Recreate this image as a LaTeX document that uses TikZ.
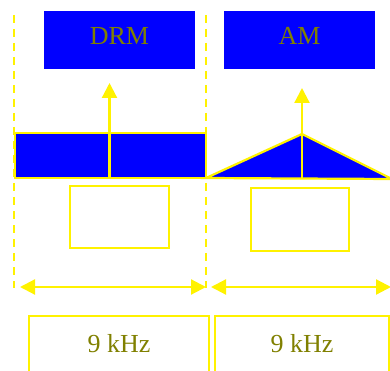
\documentclass[tikz,border=0pt]{standalone}
\usepackage{fontspec}
\setmainfont{Liberation Serif}
\usetikzlibrary{arrows.meta}
\definecolor{txtol}{RGB}{128,128,0}
\begin{document}
\begin{tikzpicture}[x=1pt,y=-1pt,
  yl/.style={draw=yellow, line width=2.2pt},
  bluebox/.style={fill=blue, text=txtol, font=\fontsize{26}{30}\selectfont, inner sep=0pt, minimum width=151pt, minimum height=58pt, text depth=8pt},
  emptybox/.style={yl, inner sep=0pt},
  khzbox/.style={yl, text=txtol, font=\fontsize{26}{30}\selectfont, inner sep=0pt, minimum height=64pt, text depth=9.8pt},
  tipped/.style={yl, -{Triangle[length=15pt,width=15pt]}},
  twotip/.style={yl, {Triangle[length=15pt,width=15pt]}-{Triangle[length=15pt,width=15pt]}},
  divider/.style={draw=yellow, line width=2.6pt, dash pattern=on 8pt off 6pt}]
\useasboundingbox (0,0) rectangle (390,371);
\clip (0,0) rectangle (390,371);
% dashed dividers
\coordinate (d1a) at (14,15); \coordinate (d1b) at (14,288);
\coordinate (d2a) at (206,15); \coordinate (d2b) at (206,288);
\draw[divider] (d1a) -- (d1b);
\draw[divider] (d2a) -- (d2b);
% top labels
\node[bluebox] (drm) at (119.5,40) {DRM};
\node[bluebox] (am) at (299.5,40) {AM};
% DRM spectrum
\node[yl, fill=blue, minimum width=191pt, minimum height=45pt, inner sep=0pt] (drmrect) at (110.5,155.5) {};
% AM spectrum
\coordinate (tl) at (206,178); \coordinate (tt) at (302,134); \coordinate (tr) at (392,179);
\draw[yl, fill=blue, line join=miter] (tl) -- (tt) -- (tr) -- cycle;
% vertical arrows
\coordinate (a1s) at (109.5,178); \coordinate (a1e) at (109.5,83);
\coordinate (a2s) at (302,178); \coordinate (a2e) at (302,88);
\draw[tipped] (a1s) -- (a1e);
\draw[tipped] (a2s) -- (a2e);
% small empty boxes
\node[emptybox, minimum width=99pt, minimum height=62pt] (b1) at (119.5,217) {};
\node[emptybox, minimum width=98pt, minimum height=63pt] (b2) at (300,219.5) {};
% horizontal arrows
\coordinate (h1a) at (20,287); \coordinate (h1b) at (206,287);
\coordinate (h2a) at (211,287); \coordinate (h2b) at (391,287);
\draw[twotip] (h1a) -- (h1b);
\draw[twotip] (h2a) -- (h2b);
% bottom boxes
\node[khzbox, minimum width=180pt] (k1) at (119,348) {9 kHz};
\node[khzbox, minimum width=174pt] (k2) at (302,348) {9 kHz};
\end{tikzpicture}
\end{document}
